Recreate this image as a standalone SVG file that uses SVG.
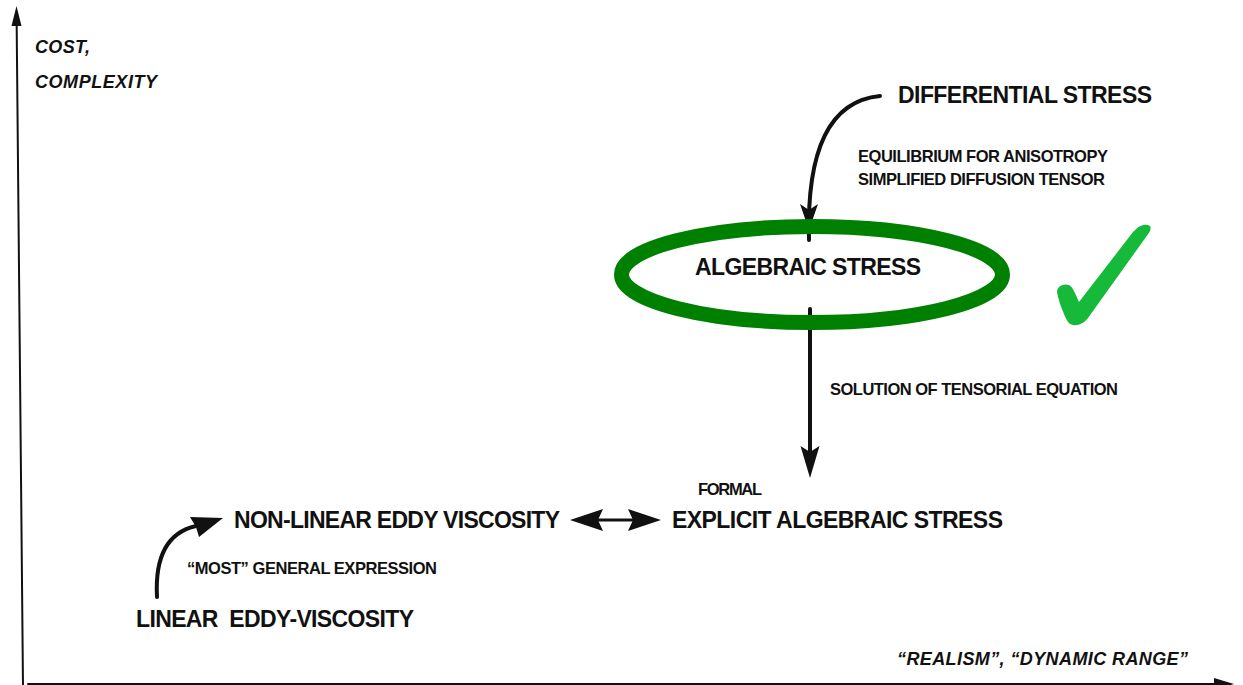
<svg xmlns="http://www.w3.org/2000/svg" width="1243" height="685" viewBox="0 0 1243 685">
  <style>
    text { font-family: "Liberation Sans", Arial, sans-serif; fill: #111; font-weight: bold; }
    .big { font-size: 23px; }
    .small { font-size: 16.5px; }
    .axis { font-size: 18px; font-style: italic; }
    .line { fill: none; stroke: #111; stroke-linecap: round; }
    .head { fill: #111; stroke: none; }
  </style>

  <rect width="1243" height="685" fill="#fff"/>

  <!-- axes -->
  <g id="axes">
    <line class="line" x1="16.6" y1="18" x2="23" y2="686" stroke-width="2"/>
    <polygon class="head" points="16.5,6 11.5,26 21.5,26"/>
    <line class="line" x1="28" y1="684" x2="1222" y2="684" stroke-width="2"/>
    <polygon class="head" points="1234,684 1214,678 1214,690"/>
    <text class="axis" x="35" y="53" textLength="55" lengthAdjust="spacing">COST,</text>
    <text class="axis" x="35" y="88" textLength="122" lengthAdjust="spacing">COMPLEXITY</text>
    <text class="axis" x="897" y="665" textLength="291" lengthAdjust="spacing">“REALISM”, “DYNAMIC RANGE”</text>
  </g>

  <!-- connectors -->
  <g id="connectors">
    <!-- differential stress down to algebraic stress -->
    <path class="line" d="M880,96 C838,100 806,135 809,240" stroke-width="4"/>
    <polygon class="head" points="800,204 809,210 818,204 809,230"/>
    <!-- algebraic stress down to explicit algebraic stress -->
    <line class="line" x1="810" y1="309" x2="810" y2="452" stroke-width="4"/>
    <polygon class="head" points="800.5,446 810,452 819.5,446 810,478"/>
    <!-- two-way link between non-linear and explicit -->
    <line class="line" x1="590" y1="520" x2="642" y2="520" stroke-width="3"/>
    <polygon class="head" points="570,520 603,509 598,520 603,531"/>
    <polygon class="head" points="661,520 628,509 633,520 628,531"/>
    <!-- linear up to non-linear -->
    <path class="line" d="M157,597 C155,560 165,533 196,526" stroke-width="4"/>
    <polygon class="head" points="223,518 190,517 196,527 199,537"/>
  </g>

  <g id="differential-stress">
    <text class="big" x="898" y="103" textLength="254" lengthAdjust="spacing">DIFFERENTIAL STRESS</text>
  </g>

  <g id="label-equilibrium">
    <text class="small" x="858" y="162" textLength="250" lengthAdjust="spacing">EQUILIBRIUM FOR ANISOTROPY</text>
    <text class="small" x="858" y="185" textLength="247" lengthAdjust="spacing">SIMPLIFIED DIFFUSION TENSOR</text>
  </g>

  <g id="algebraic-stress">
    <text class="big" x="695" y="275" textLength="226" lengthAdjust="spacing">ALGEBRAIC STRESS</text>
    <ellipse cx="812" cy="274.5" rx="190.5" ry="48" fill="none" stroke="#008000" stroke-width="15"/>
  </g>

  <g id="checkmark">
    <path d="M1057,292 C1057,286 1064,283 1069,285 C1073,287 1075,293 1079,302 L1133,232 C1139,225 1146,223 1150,226 C1152,229 1149,233 1146,237 L1088,318 C1083,325 1073,328 1068,322 C1064,315 1059,303 1057,292 Z" fill="#16b93a"/>
  </g>

  <g id="label-solution">
    <text class="small" x="830" y="395" textLength="288" lengthAdjust="spacing">SOLUTION OF TENSORIAL EQUATION</text>
  </g>

  <g id="explicit-algebraic-stress">
    <text class="small" x="698" y="495" textLength="64" lengthAdjust="spacing">FORMAL</text>
    <text class="big" x="672" y="528" textLength="331" lengthAdjust="spacing">EXPLICIT ALGEBRAIC STRESS</text>
  </g>

  <g id="non-linear-eddy-viscosity">
    <text class="big" x="234" y="528" textLength="326" lengthAdjust="spacing">NON-LINEAR EDDY VISCOSITY</text>
  </g>

  <g id="label-general">
    <text class="small" x="187" y="574" textLength="250" lengthAdjust="spacing">“MOST” GENERAL EXPRESSION</text>
  </g>

  <g id="linear-eddy-viscosity">
    <text class="big" x="136" y="627" textLength="278" lengthAdjust="spacing" style="white-space:pre">LINEAR  EDDY-VISCOSITY</text>
  </g>
</svg>
